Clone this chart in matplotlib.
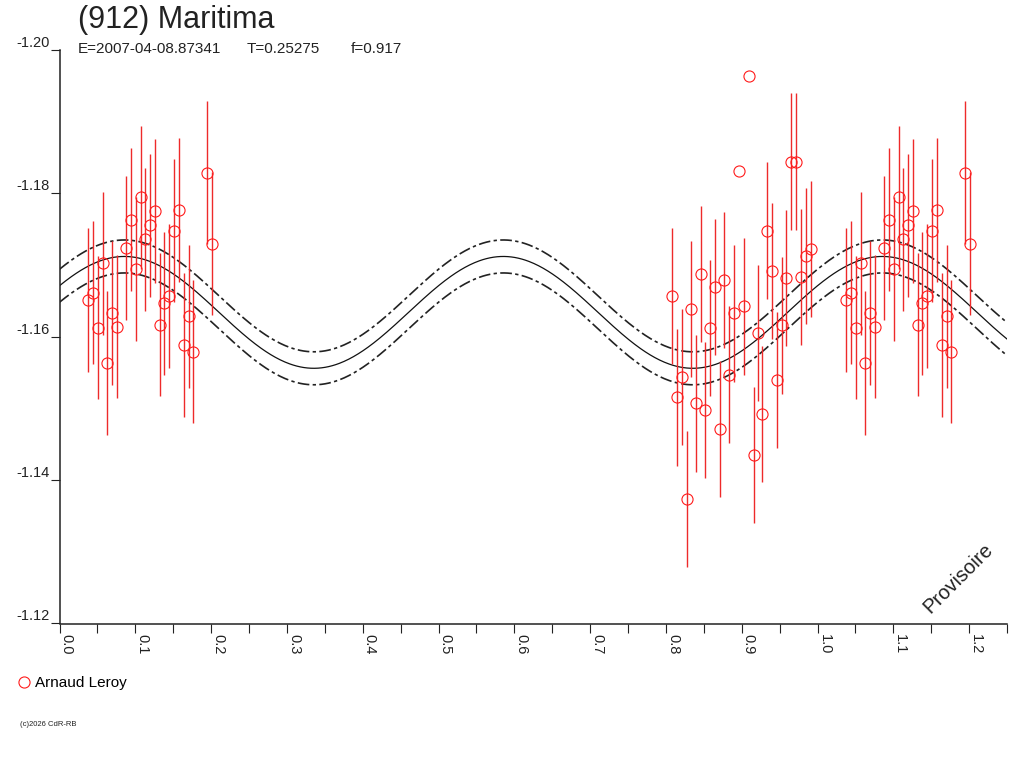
import matplotlib
matplotlib.use("Agg")
import matplotlib.pyplot as plt
from matplotlib.lines import Line2D
import numpy as np

plt.rcParams['font.family'] = ['Liberation Sans', 'DejaVu Sans']
plt.rcParams['axes.unicode_minus'] = False

# Observations, first block (phase 0.04-0.20, drawn again at phase + 1)
phase_a = [0.0379, 0.0445, 0.0505, 0.0571, 0.0629, 0.0695, 0.0756, 0.0880,
           0.0946, 0.1007, 0.1069, 0.1131, 0.1197, 0.1257, 0.1323, 0.1385,
           0.1447, 0.1508, 0.1574, 0.1636, 0.1702, 0.1764, 0.1949, 0.2015]
mag_a = [-1.16514, -1.16617, -1.16125, -1.17024, -1.15635, -1.16333, -1.16139, -1.17236,
         -1.17635, -1.16944, -1.17944, -1.17357, -1.17556, -1.17756, -1.16167, -1.16464,
         -1.16569, -1.17478, -1.17769, -1.15885, -1.16283, -1.15792, -1.18288, -1.17297]
err_a = [0.0100] * 24

# Observations, second block (phase 0.80-1.00)
phase_b = [0.8083, 0.8144, 0.8210, 0.8272, 0.8334, 0.8395, 0.8461, 0.8518,
           0.8584, 0.8650, 0.8711, 0.8773, 0.8835, 0.8901, 0.8958, 0.9028,
           0.9090, 0.9156, 0.9212, 0.9274, 0.9336, 0.9406, 0.9468, 0.9529,
           0.9591, 0.9653, 0.9719, 0.9780, 0.9842, 0.9908]
mag_b = [-1.16569, -1.15153, -1.15440, -1.13732, -1.16389, -1.15069, -1.16871, -1.14982,
         -1.16121, -1.16690, -1.14708, -1.16792, -1.15472, -1.16325, -1.18315, -1.16422,
         -1.19644, -1.14347, -1.16056, -1.14926, -1.17482, -1.16917, -1.15399, -1.16158,
         -1.16825, -1.18444, -1.18444, -1.16833, -1.17121, -1.17222]
err_b = [0.0095, 0.0095, 0.0095, 0.0095, 0.0095, 0.0095, 0.0095, 0.0095,
         0.0095, 0.0095, 0.0095, 0.0095, 0.0095, 0.0095, 0.0, 0.0095,
         0.0, 0.0095, 0.0095, 0.0095, 0.0095, 0.0095, 0.0095, 0.0095,
         0.0095, 0.0095, 0.0095, 0.0095, 0.0095, 0.0095]

# Fitted model (two maxima per period) and its uncertainty band
model_mean = -1.1634
model_amp = 0.0078
model_phase0 = 0.0855
model_sigma = 0.0023

x_ticks = [0.0, 0.1, 0.2, 0.3, 0.4, 0.5, 0.6, 0.7, 0.8, 0.9, 1.0, 1.1, 1.2]
x_labels = ["0.0", "0.1", "0.2", "0.3", "0.4", "0.5", "0.6", "0.7", "0.8", "0.9", "1.0", "1.1", "1.2"]
x_minor = [0.05, 0.15, 0.25, 0.35, 0.45, 0.55, 0.65, 0.75, 0.85, 0.95, 1.05, 1.15, 1.25]
y_ticks = [-1.20, -1.18, -1.16, -1.14, -1.12]
y_labels = ["-1.20", "-1.18", "-1.16", "-1.14", "-1.12"]

title = "(912) Maritima"
subtitle = ["E=2007-04-08.87341", "T=0.25275", "f=0.917"]
observer = "Arnaud Leroy"

W, H = 1024, 768
fig = plt.figure(figsize=(W / 100, H / 100), dpi=100)
ax = fig.add_axes([59.5 / W, 1 - 623.5 / H, 947.5 / W, 573.5 / H])

# model curves
ph = np.linspace(0, 1.25, 800)
model = model_mean - model_amp * np.cos(4 * np.pi * (ph - model_phase0))
ax.plot(ph, model, color='#111111', lw=0.9)
ax.plot(ph, model - model_sigma, color='#222222', lw=1.2, dashes=(7, 2, 2, 2))
ax.plot(ph, model + model_sigma, color='#222222', lw=1.2, dashes=(7, 2, 2, 2))

# measurements
x_all = np.concatenate([phase_a, phase_b, np.array(phase_a) + 1.0])
y_all = np.concatenate([mag_a, mag_b, mag_a])
e_all = np.concatenate([err_a, err_b, err_a])
ax.errorbar(x_all, y_all, yerr=e_all, fmt='o', mfc='none', mec='#ff1a1a', ms=8,
            mew=0.8, ecolor='#ee2a2a', elinewidth=1.0, capsize=0, zorder=3)

ax.set_xlim(0, 1.25)
ax.set_ylim(-1.12, -1.20)
for s in ['top', 'right']:
    ax.spines[s].set_visible(False)
for s in ['left', 'bottom']:
    ax.spines[s].set_linewidth(1.1)
    ax.spines[s].set_color('#222222')

ax.set_xticks(x_ticks)
ax.set_xticks(x_minor, minor=True)
ax.set_xticklabels(x_labels, rotation=-90, ha='left', va='top')
ax.set_yticks(y_ticks)
ax.set_yticklabels(y_labels, va='bottom')
ax.tick_params(axis='both', which='both', direction='out', length=6.8, width=0.8,
               pad=0.5, labelsize=10.5, colors='#222222')

# texts
fig.text(78 / W, 1 - 28.3 / H, title, fontsize=22, color='#222222', va='baseline')
for txt, xp in zip(subtitle, [78, 247, 351]):
    fig.text(xp / W, 1 - 53.3 / H, txt, fontsize=11, color='#222222', va='baseline')
fig.text(958 / W, 1 - 578 / H, "Provisoire", fontsize=14.5, rotation=45,
         ha='center', va='center', color='#222222')
fig.text(20 / W, 1 - 725 / H, "(c)2026 CdR-RB", fontsize=5.5, color='#222222', va='center')

handle = Line2D([], [], marker='o', ls='none', mfc='none', mec='#ff1a1a', ms=8, mew=0.8)
fig.legend([handle], [observer], loc='center left', bbox_to_anchor=(17.9 / W, 1 - 683 / H),
           frameon=False, fontsize=11, handlelength=0.8, handletextpad=0.32,
           borderpad=0, borderaxespad=0)

fig.savefig("out.png", dpi=100)
